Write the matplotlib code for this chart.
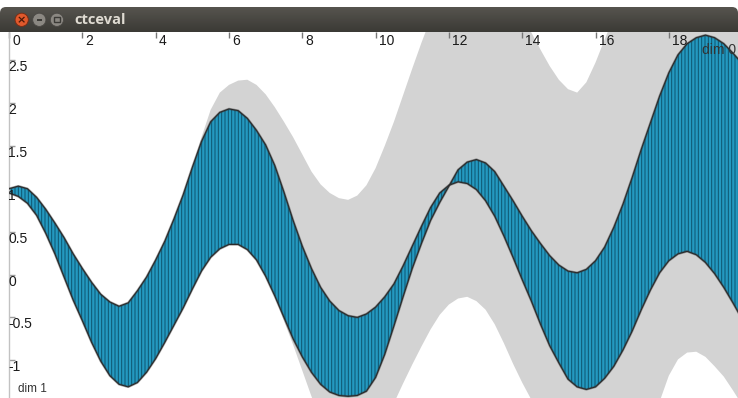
import numpy as np
import matplotlib
matplotlib.use("Agg")
import matplotlib.pyplot as plt
from matplotlib import transforms
from matplotlib.colors import LinearSegmentedColormap
from matplotlib.patches import Circle, FancyBboxPatch, Rectangle

# ---- data -------------------------------------------------------------
x = np.arange(0, 20.01, 0.25)

# the two edges of the evaluated band (they cross near x = 12)
band_a = [1.00, 1.03, 1.00, 0.90, 0.76, 0.60, 0.43, 0.24, 0.07, -0.09,
          -0.23, -0.32, -0.37, -0.33, -0.19, -0.03, 0.17, 0.39, 0.65, 0.93,
          1.25, 1.55, 1.78, 1.89, 1.93, 1.91, 1.82, 1.68, 1.51, 1.27,
          0.96, 0.63, 0.33, 0.07, -0.15, -0.31, -0.42, -0.48, -0.50, -0.46,
          -0.38, -0.26, -0.11, 0.10, 0.33, 0.56, 0.78, 0.95, 1.04, 1.08,
          1.06, 0.99, 0.86, 0.68, 0.45, 0.20, -0.06, -0.31, -0.58, -0.83,
          -1.03, -1.22, -1.31, -1.34, -1.31, -1.21, -1.07, -0.88, -0.66, -0.41,
          -0.18, 0.02, 0.16, 0.24, 0.27, 0.23, 0.14, 0.01, -0.15, -0.33,
          -0.52]
band_b = [0.95, 0.91, 0.83, 0.69, 0.48, 0.24, -0.03, -0.30, -0.54, -0.79,
          -1.01, -1.18, -1.28, -1.31, -1.26, -1.14, -0.98, -0.79, -0.59, -0.39,
          -0.17, 0.04, 0.20, 0.30, 0.35, 0.35, 0.29, 0.17, -0.02, -0.25,
          -0.50, -0.75, -0.96, -1.14, -1.28, -1.37, -1.41, -1.42, -1.41, -1.36,
          -1.20, -0.93, -0.60, -0.26, 0.07, 0.36, 0.63, 0.84, 1.03, 1.22,
          1.31, 1.34, 1.30, 1.20, 1.03, 0.86, 0.68, 0.51, 0.36, 0.22,
          0.11, 0.04, 0.02, 0.06, 0.16, 0.32, 0.55, 0.82, 1.13, 1.46,
          1.77, 2.08, 2.35, 2.56, 2.69, 2.76, 2.79, 2.76, 2.69, 2.58,
          2.46]

# outer envelope (grey)
spread_hi = [1.00, 1.03, 1.00, 0.90, 0.76, 0.60, 0.43, 0.24, 0.07, -0.09,
             -0.23, -0.32, -0.37, -0.33, -0.19, -0.03, 0.17, 0.39, 0.65, 0.93,
             1.25, 1.60, 1.92, 2.12, 2.21, 2.26, 2.27, 2.21, 2.10, 1.95,
             1.78, 1.60, 1.40, 1.20, 1.05, 0.95, 0.89, 0.87, 0.92, 1.04,
             1.24, 1.50, 1.78, 2.09, 2.40, 2.70, 2.98, 3.20, 3.38, 3.50,
             3.56, 3.56, 3.50, 3.40, 3.28, 3.14, 2.99, 2.82, 2.62, 2.43,
             2.27, 2.16, 2.12, 2.24, 2.47, 2.74, 3.00, 3.22, 3.40, 3.55,
             3.66, 3.72, 3.75, 3.75, 3.72, 3.68, 3.62, 3.55, 3.48, 3.40,
             3.32]
spread_lo = [0.95, 0.91, 0.83, 0.69, 0.48, 0.24, -0.03, -0.30, -0.54, -0.79,
             -1.01, -1.18, -1.28, -1.31, -1.26, -1.14, -0.98, -0.79, -0.59, -0.39,
             -0.17, 0.04, 0.20, 0.30, 0.35, 0.35, 0.29, 0.17, -0.02, -0.25,
             -0.54, -0.82, -1.12, -1.42, -1.70, -1.92, -2.08, -2.16, -2.15, -2.05,
             -1.88, -1.70, -1.50, -1.27, -1.05, -0.84, -0.64, -0.47, -0.35, -0.28,
             -0.26, -0.31, -0.41, -0.58, -0.80, -1.04, -1.26, -1.46, -1.66, -1.84,
             -2.00, -2.12, -2.22, -2.28, -2.30, -2.30, -2.27, -2.20, -2.10, -1.97,
             -1.78, -1.48, -1.18, -0.99, -0.91, -0.90, -0.96, -1.07, -1.19, -1.35,
             -1.52]

xticks = [0, 2, 4, 6, 8, 10, 12, 14, 16, 18]
yticks = [-1, -0.5, 0, 0.5, 1, 1.5, 2, 2.5]
ytick_labels = ["-1", "-0.5", "0", "0.5", "1", "1.5", "2", "2.5"]
window_title = "ctceval"
x_name = "dim 0"
y_name = "dim 1"

# ---- figure ------------------------------------------------------------
W, H = 738, 398
DPI = 100
plt.rcParams["hatch.linewidth"] = 0.7
fig = plt.figure(figsize=(W / DPI, H / DPI), dpi=DPI)
fig.patch.set_facecolor("white")

LEFT_PX, TOP_PX = 9.1, 32
X_SCALE, Y_SCALE, Y0_PX = 36.65, 85.8, 274.5

ax = fig.add_axes([LEFT_PX / W, 0, 1 - LEFT_PX / W, (H - TOP_PX) / H])
ax.set_facecolor("white")
ax.set_xlim(0, (W - LEFT_PX) / X_SCALE)
ax.set_ylim(-(H - Y0_PX) / Y_SCALE, (Y0_PX - TOP_PX) / Y_SCALE)

ax.fill_between(x, spread_lo, spread_hi, color="#d3d3d3", lw=0, zorder=1)
ax.fill_between(x, band_a, band_b, facecolor="#2499c0", edgecolor="#0d5570",
                hatch="|||||", lw=0, zorder=2)
# soft dark rim along both edges of the band
for edge in (band_a, band_b):
    ax.plot(x, edge, color="#3a3a3a", lw=1.7, alpha=0.45, zorder=3,
            solid_joinstyle="round")
    ax.plot(x, edge, color="#2a2a2a", lw=0.8, zorder=3,
            solid_joinstyle="round")

for side in ("top", "right", "bottom"):
    ax.spines[side].set_visible(False)
ax.spines["left"].set_color("#c2c2c2")
ax.spines["left"].set_linewidth(1.0)

ax.xaxis.set_ticks_position("top")
ax.set_xticks(xticks)
ax.set_yticks(yticks)
ax.tick_params(axis="x", direction="in", length=4, width=1, color="#777777",
               labeltop=False, labelbottom=False)
ax.tick_params(axis="y", direction="in", length=4, width=1, color="#9a9a9a",
               labelleft=False)

font = dict(family="Liberation Sans", fontsize=10, color="#1a1a1a", zorder=5)
xt = transforms.blended_transform_factory(ax.transData, ax.transAxes)
xt = xt + transforms.ScaledTranslation(3 / DPI, -13 / DPI, fig.dpi_scale_trans)
for t in xticks:
    ax.text(t, 1, str(t), transform=xt, ha="left", va="baseline", **font)

yt = transforms.blended_transform_factory(ax.transAxes, ax.transData)
yt = yt + transforms.ScaledTranslation(-1 / DPI, -11 / DPI, fig.dpi_scale_trans)
for t, lab in zip(yticks, ytick_labels):
    ax.text(0, t, lab, transform=yt, ha="left", va="baseline", **font)

fig.text(1 - 2 / W, 1 - 50 / H, x_name, ha="right", va="center",
         family="Liberation Sans", fontsize=10, color="#333333")
fig.text(18 / W, 1 - 389 / H, y_name, ha="left", va="center",
         family="Liberation Sans", fontsize=8.5, color="#333333")

# ---- window title bar -------------------------------------------------
tb = fig.add_axes([0, 1 - TOP_PX / H, 1, (TOP_PX - 7) / H])
tb.set_xlim(0, W)
tb.set_ylim(TOP_PX, 7)
tb.axis("off")
grad = np.linspace(0, 1, 25)[:, None] * np.ones((1, 2))
bar_cmap = LinearSegmentedColormap.from_list("bar", ["#56544e", "#3b3a36"])
im = tb.imshow(grad, extent=(0, W, TOP_PX, 7), aspect="auto", cmap=bar_cmap,
               interpolation="bilinear")
clip = FancyBboxPatch((0, 7), W, 40, boxstyle="round,pad=0,rounding_size=6",
                      transform=tb.transData, fc="none", ec="none")
tb.add_patch(clip)
im.set_clip_path(clip)

tb.add_patch(Circle((21.7, 19.8), 6.6, fc="#e0592c", ec="#7a2a12", lw=0.6))
tb.text(21.7, 20.0, "×", ha="center", va="center", fontsize=8,
        color="#4a1808", family="DejaVu Sans", fontweight="bold")
for cx in (39.3, 56.9):
    tb.add_patch(Circle((cx, 19.8), 6.6, fc="#8b8882", ec="#4a4844", lw=0.6))
tb.add_patch(Rectangle((36.6, 19.3), 5.4, 1.3, fc="#3b3a36", ec="none"))
tb.add_patch(Rectangle((54.3, 17.3), 5.2, 5.0, fc="none", ec="#3b3a36", lw=1.0))
tb.text(74, 20.2, window_title, ha="left", va="center", fontsize=10.5,
        fontweight="bold", family="Open Sans", color="#dfdbd2")

fig.savefig("out.png", dpi=DPI)
